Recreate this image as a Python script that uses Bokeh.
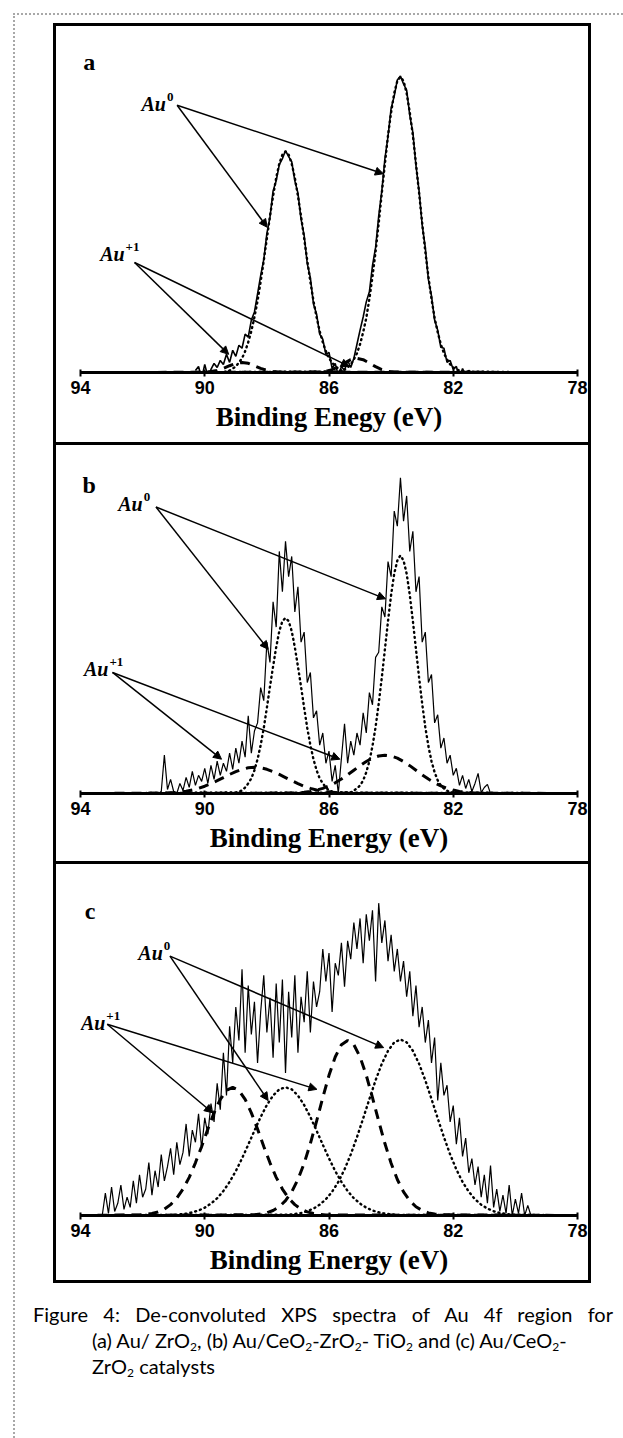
from bokeh.plotting import figure
from bokeh.models import Range1d, FixedTicker, Label, Arrow, NormalHead, Div
from bokeh.layouts import column
from bokeh.embed import file_html
from bokeh.resources import INLINE


def grid(start, stop, step):
    n = int(round((start - stop) / step)) + 1
    return [round(start - i * step, 2) for i in range(n)]


# ---------------- data (binding energy in eV, intensity in a.u.) ----------------
tick_values = [94, 90, 86, 82, 78]
axis_titles = ["Binding Enegy (eV)", "Binding Energy (eV)", "Binding Energy (eV)"]
panel_letters = ["a", "b", "c"]

# panel a : Au/ZrO2  (raw spectrum 90.3 -> 81.3 eV, 0.1 eV step)
raw_a_ev = grid(90.3, 81.3, 0.1)
raw_a = [2, 6, -6, 8, -4, 3, 9, 5, 12, 8,
         18, 10, 22, 16, 27, 24, 38, 35, 52, 60,
         78, 96, 112, 138, 154, 180, 190, 206, 212, 220,
         214, 209, 190, 178, 152, 136, 108, 94, 68, 58,
         38, 33, 18, 20, 4, 9, -3, 6, 2, 12,
         5, 14, 28, 42, 55, 70, 80, 106, 124, 155,
         180, 212, 234, 262, 274, 290, 294, 286, 280, 255,
         238, 205, 180, 146, 124, 92, 76, 52, 42, 25,
         24, 10, 12, 3, 6, -5, 4, -3, 2, 0,
         0]
a_au0_1_ev = grid(89.4, 85.4, 0.1)
a_au0_1 = [0, 1, 2, 4, 6, 10, 14, 21, 30, 41, 55, 71, 90, 111, 133, 155, 175, 193, 207, 216,
           219, 216, 207, 193, 175, 155, 133, 111, 90, 71, 55, 41, 30, 21, 14, 10, 6, 4, 2, 1, 0]
a_au0_2_ev = grid(85.7, 81.7, 0.1)
a_au0_2 = [1, 2, 3, 5, 8, 13, 19, 28, 40, 54, 73, 95, 120, 148, 178, 207, 235, 258, 277, 289,
           293, 289, 277, 258, 235, 207, 178, 148, 120, 95, 73, 54, 40, 28, 19, 13, 8, 5, 3, 2, 1]
a_au1_1_ev = grid(90.0, 87.6, 0.2)
a_au1_1 = [0.3, 0.9, 2.1, 4.1, 6.7, 9.1, 10, 9.1, 6.7, 4.1, 2.1, 0.9, 0.3]
a_au1_2_ev = grid(86.3, 83.9, 0.2)
a_au1_2 = [0.4, 1.2, 2.9, 5.8, 9.4, 12.7, 14, 12.7, 9.4, 5.8, 2.9, 1.2, 0.4]

# panel b : Au/CeO2-ZrO2-TiO2  (raw spectrum 91.5 -> 80.8 eV)
raw_b_ev = grid(91.5, 80.8, 0.1)
raw_b = [0, 2, 38, 4, 14, 2, 0, 10, 3, 16,
         6, 22, 8, 18, 12, 25, 10, 28, 14, 32,
         18, 30, 22, 40, 24, 45, 30, 52, 36, 77,
         40, 62, 70, 105, 92, 150, 130, 190, 165, 240,
         200, 250, 215, 235, 180, 205, 150, 160, 110, 120,
         75, 82, 48, 60, 30, 42, 12, 28, 0, 35,
         69, 30, 52, 38, 60, 48, 80, 60, 100, 88,
         135, 140, 185, 175, 230, 215, 280, 265, 313, 270,
         295, 240, 260, 200, 215, 150, 160, 110, 118, 70,
         78, 45, 55, 30, 38, 18, 25, 8, 18, 5,
         14, 2, 10, 20, 1, 6, 9, 0]
b_au0_1_ev = grid(89.0, 85.8, 0.1)
b_au0_1 = [1, 2, 3, 6, 10, 15, 23, 34, 48, 65, 85, 106, 126, 145, 161, 171,
           174, 171, 161, 145, 126, 106, 85, 65, 48, 34, 23, 15, 10, 6, 3, 2, 1]
b_au0_2_ev = grid(85.3, 82.1, 0.1)
b_au0_2 = [1, 3, 5, 8, 13, 21, 32, 47, 66, 89, 115, 143, 171, 197, 218, 231,
           236, 231, 218, 197, 171, 143, 115, 89, 66, 47, 32, 21, 13, 8, 5, 3, 1]
b_au1_1_ev = grid(91.4, 85.4, 0.2)
b_au1_1 = [0.3, 0.5, 0.9, 1.5, 2.3, 3.5, 5.1, 7.2, 9.8, 12.7, 15.8, 18.9, 21.7, 24, 25.5,
           26, 25.5, 24, 21.7, 18.9, 15.8, 12.7, 9.8, 7.2, 5.1, 3.5, 2.3, 1.5, 0.9, 0.5, 0.3]
b_au1_2_ev = grid(87.2, 81.2, 0.2)
b_au1_2 = [0.4, 0.8, 1.3, 2.1, 3.4, 5.1, 7.5, 10.6, 14.3, 18.5, 23.1, 27.6, 31.7, 35.1, 37.2,
           38, 37.2, 35.1, 31.7, 27.6, 23.1, 18.5, 14.3, 10.6, 7.5, 5.1, 3.4, 2.1, 1.3, 0.8, 0.4]

# panel c : Au/CeO2-ZrO2  (raw spectrum 93.3 -> 79.5 eV)
raw_c_ev = grid(93.3, 79.5, 0.1)
raw_c = [0, 22, 2, 28, 4, 12, 30, 6, 18, 8,
         34, 12, 40, 18, 26, 52, 20, 44, 28, 60,
         34, 48, 66, 40, 72, 50, 62, 90, 58, 84,
         72, 100, 66, 96, 80, 110, 92, 130, 104, 160,
         118, 186, 150, 205, 172, 242, 160, 226, 178, 210,
         150, 200, 236, 180, 214, 155, 228, 170, 232, 140,
         220, 175, 236, 160, 215, 190, 240, 180, 230, 205,
         220, 262, 230, 258, 200, 248, 236, 268, 225, 270,
         252, 288, 262, 292, 248, 296, 270, 300, 230, 307,
         268, 290, 250, 276, 240, 262, 230, 250, 215, 240,
         196, 226, 185, 205, 170, 192, 150, 175, 113, 150,
         118, 128, 92, 108, 70, 96, 58, 76, 42, 56,
         30, 48, 18, 40, 12, 49, 8, 26, 4, 20,
         2, 30, 0, 16, 2, 22, 0, 10, 0]
c_au1_1_ev = grid(92.1, 86.1, 0.2)
c_au1_1 = [0.5, 1, 1.9, 3.6, 6.3, 10.7, 17, 26, 37.5, 51.8, 67.9, 84.9, 100.9, 114.2, 123,
           126, 123, 114.2, 100.9, 84.9, 67.9, 51.8, 37.5, 26, 17, 10.7, 6.3, 3.6, 1.9, 1, 0.5]
c_au1_2_ev = grid(88.4, 82.4, 0.2)
c_au1_2 = [0.7, 1.4, 2.6, 4.9, 8.6, 14.6, 23.2, 35.4, 51.3, 70.7, 92.7, 115.9, 137.8, 155.8, 167.9,
           172, 167.9, 155.8, 137.8, 115.9, 92.7, 70.7, 51.3, 35.4, 23.2, 14.6, 8.6, 4.9, 2.6, 1.4, 0.7]
c_au0_1_ev = grid(91.0, 83.8, 0.2)
c_au0_1 = [0.6, 1.1, 1.8, 3.1, 4.9, 7.7, 11.7, 17, 24.1, 33, 43.7, 56.1, 69.6, 83.4, 96.8, 108.6, 117.9, 124,
           126, 124, 117.9, 108.6, 96.8, 83.4, 69.6, 56.1, 43.7, 33, 24.1, 17, 11.7, 7.7, 4.9, 3.1, 1.8, 1.1, 0.6]
c_au0_2_ev = grid(87.3, 80.1, 0.2)
c_au0_2 = [0.8, 1.5, 2.5, 4.2, 6.8, 10.6, 16, 23.4, 33, 45.3, 60, 77, 95.5, 114.5, 132.9, 149.1, 161.9, 170.2,
           173, 170.2, 161.9, 149.1, 132.9, 114.5, 95.5, 77, 60, 45.3, 33, 23.4, 16, 10.6, 6.8, 4.2, 2.5, 1.5, 0.8]

# baseline extent of the fitted components
fit_span = [(92.1, 79.1), (94.0, 78.0), (94.0, 78.0)]

# ---------------- annotation placement (data units) ----------------
notes = [
    dict(letter=(93.72, 308), au0=(91.25, 266), au0_from=(90.89, 265), au0_to=[(87.99, 144), (84.25, 197)],
         au1=(92.58, 117), au1_from=(92.26, 109), au1_to=[(89.23, 18), (85.35, 6)]),
    dict(letter=(93.72, 306), au0=(92.0, 287), au0_from=(91.57, 284), au0_to=[(87.96, 143), (84.18, 193)],
         au1=(93.10, 123), au1_from=(92.97, 120), au1_to=[(89.46, 34), (85.65, 34)]),
    dict(letter=(93.69, 299), au0=(91.35, 258), au0_from=(91.12, 255), au0_to=[(87.96, 113), (84.24, 165)],
         au1=(93.20, 189), au1_from=(93.14, 188), au1_to=[(89.75, 101), (86.39, 124)]),
]

raw_series = [(raw_a_ev, raw_a), (raw_b_ev, raw_b), (raw_c_ev, raw_c)]
au0_series = [[(a_au0_1_ev, a_au0_1), (a_au0_2_ev, a_au0_2)],
              [(b_au0_1_ev, b_au0_1), (b_au0_2_ev, b_au0_2)],
              [(c_au0_1_ev, c_au0_1), (c_au0_2_ev, c_au0_2)]]
au1_series = [[(a_au1_1_ev, a_au1_1), (a_au1_2_ev, a_au1_2)],
              [(b_au1_1_ev, b_au1_1), (b_au1_2_ev, b_au1_2)],
              [(c_au1_1_ev, c_au1_1), (c_au1_2_ev, c_au1_2)]]
frame_heights = [343, 345, 345]
raw_widths = [1.6, 1.2, 1.2]

CANVAS_W, CANVAS_H = 532, 416
LABEL_FONT = "Liberation Serif"


def make_panel(i):
    fh = frame_heights[i]
    last = i == 2
    st = {"border-top": "3px solid black", "border-left": "3px solid black",
          "border-right": "3px solid black", "margin-left": "25px", "box-sizing": "content-box"}
    if last:
        st["border-bottom"] = "3px solid black"
    p = figure(width=CANVAS_W, height=CANVAS_H, x_range=Range1d(94, 78), y_range=Range1d(0, fh),
               output_backend="svg", toolbar_location=None, y_axis_location=None,
               min_border_left=24, min_border_right=17, min_border_top=0,
               min_border_bottom=CANVAS_H - fh, styles=st)
    p.outline_line_color = None
    p.grid.visible = False
    p.background_fill_color = "white"
    p.border_fill_color = "white"

    ax = p.xaxis[0]
    ax.ticker = FixedTicker(ticks=tick_values)
    ax.axis_label = axis_titles[i]
    ax.axis_label_text_font = LABEL_FONT
    ax.axis_label_text_font_style = "bold"
    ax.axis_label_text_font_size = "27px"
    ax.axis_label_text_color = "black"
    ax.axis_label_standoff = 5
    ax.major_label_text_font = "Liberation Sans"
    ax.major_label_text_font_style = "bold"
    ax.major_label_text_font_size = "18px"
    ax.major_label_text_color = "black"
    ax.major_label_standoff = 4
    ax.axis_line_width = 3
    ax.axis_line_color = "black"
    ax.major_tick_line_width = 2
    ax.major_tick_in = 3
    ax.major_tick_out = 4
    ax.minor_tick_line_color = None

    x0, x1 = fit_span[i]
    ev, y = raw_series[i]
    assert len(ev) == len(y)
    p.line(ev, y, line_color="black", line_width=raw_widths[i])
    for ev, y in au0_series[i]:
        assert len(ev) == len(y)
        p.line([x0] + ev + [x1], [0] + y + [0], line_color="black", line_width=2.4,
               line_dash="1 4", line_cap="round")
    for ev, y in au1_series[i]:
        assert len(ev) == len(y)
        p.line([x0] + ev + [x1], [0] + y + [0], line_color="black", line_width=3,
               line_dash="10 7")

    n = notes[i]
    p.add_layout(Label(x=n["letter"][0], y=n["letter"][1], text=panel_letters[i], text_font=LABEL_FONT,
                       text_font_style="bold", text_font_size="24px", text_align="center",
                       text_baseline="alphabetic", text_color="black"))
    for key, sup in (("au0", "0"), ("au1", "+1")):
        lx, ly = n[key]
        p.add_layout(Label(x=lx, y=ly, text="Au", text_font=LABEL_FONT, text_font_style="bold italic",
                           text_font_size="20px", text_align="right", text_baseline="alphabetic",
                           text_color="black"))
        p.add_layout(Label(x=lx, y=ly, text=sup, text_font=LABEL_FONT, text_font_style="bold",
                           text_font_size="13px", text_align="left", text_baseline="alphabetic",
                           x_offset=1, y_offset=7, text_color="black"))
        sx, sy = n[key + "_from"]
        for ex, ey in n[key + "_to"]:
            p.add_layout(Arrow(end=NormalHead(size=8, fill_color="black", line_color="black", line_width=1),
                               x_start=sx, y_start=sy, x_end=ex, y_end=ey,
                               line_color="black", line_width=1.5))
    return p


panels = [make_panel(i) for i in range(3)]

sub = '<sub style="font-size:12px;line-height:0;vertical-align:-3px;">2</sub>'
caption_html = (
    '<div style="font-family:Lato,sans-serif;font-size:20px;line-height:26px;color:#000;width:580px;">'
    '<div style="text-align:justify;text-align-last:justify;">'
    'Figure 4: De-convoluted XPS spectra of Au 4f region for</div>'
    '<div style="padding-left:59px;">(a) Au/ ZrO' + sub + ', (b) Au/CeO' + sub + '-ZrO' + sub +
    '- TiO' + sub + ' and (c) Au/CeO' + sub + '-</div>'
    '<div style="padding-left:59px;">ZrO' + sub + ' catalysts</div></div>'
)
caption = Div(text=caption_html, width=582, styles={"margin-top": "18px"})

root = column(*panels, caption, width=595, height=1415,
              styles={"margin-left": "13px", "margin-top": "13px",
                      "border-top": "2px dotted #a8a8a8", "border-left": "2px dotted #a8a8a8",
                      "padding-left": "13px", "padding-top": "8px", "box-sizing": "content-box"})

open("out.html", "w").write(file_html(root, INLINE))
